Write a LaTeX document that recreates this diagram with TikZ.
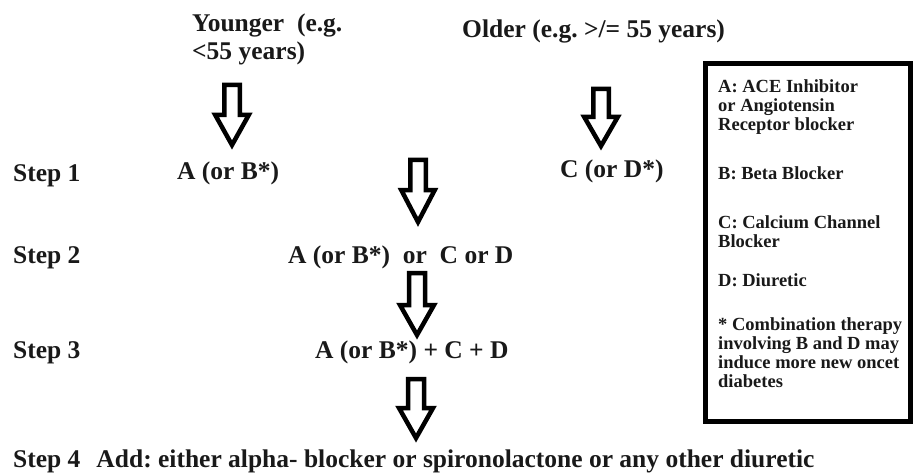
\documentclass[tikz,border=0pt]{standalone}
\usepackage{fontspec}
\setmainfont{Liberation Serif}
\frenchspacing
\newcommand\blockarrow[5]{% cx, top, headstart, tip, shafthalf
  \draw[barrow] ({#1-#5},#2) -- ({#1+#5},#2) -- ({#1+#5},#3) -- ({#1+#5+9},#3) -- (#1,#4) -- ({#1-#5-9},#3) -- ({#1-#5},#3) -- cycle;}
\begin{document}
\begin{tikzpicture}[x=1pt,y=-1pt,
  txt/.style={font=\bfseries\fontsize{25.5}{28}\selectfont, text=black!90, inner sep=0pt, anchor=base west},
  boxtxt/.style={font=\bfseries\fontsize{18.5}{21}\selectfont, text=black!90, inner sep=0pt, anchor=base west},
  barrow/.style={draw=black, line width=4.5pt, fill=white, line join=miter}]
\useasboundingbox (0,0) rectangle (913,476);
\node[txt] (young1) at (192,32) {Younger\ \ (e.g.};
\node[txt] (young2) at (192,60) {<55 years)};
\node[txt] (old) at (462,38) {Older (e.g. >/= 55 years)};
\node[txt] (s1) at (13,182) {Step 1};
\node[txt] (s2) at (13,263) {Step 2};
\node[txt] (s3) at (13,358) {Step 3};
\node[txt] (s4) at (13,467) {Step 4\hspace{16pt}Add: either alpha- blocker or spironolactone or any other diuretic};
\node[txt] (a1) at (177,179) {A (or B*)};
\node[txt] (c1) at (560,177) {C (or D*)};
\node[txt] (r2) at (288,263) {A (or B*)\ \ or\ \ C or D};
\node[txt] (r3) at (315,358) {A (or B*) + C + D};
\blockarrow{232}{85}{115}{145}{7.75}
\blockarrow{601}{89}{117}{146}{7.75}
\blockarrow{418}{160}{190}{222}{7.75}
\blockarrow{417}{273}{305}{335}{8}
\blockarrow{416}{379}{408}{438}{8}
\draw[line width=5pt] (705.5,64) rectangle (910,421);
\node[boxtxt] (l1) at (718,93) {A: ACE Inhibitor};
\node[boxtxt] (l2) at (718,112) {or Angiotensin};
\node[boxtxt] (l3) at (718,131) {Receptor blocker};
\node[boxtxt] (l4) at (718,179) {B: Beta Blocker};
\node[boxtxt] (l5) at (718,228) {C: Calcium Channel};
\node[boxtxt] (l6) at (718,247) {Blocker};
\node[boxtxt] (l7) at (718,286) {D: Diuretic};
\node[boxtxt] (l8) at (718,330) {* Combination therapy};
\node[boxtxt] (l9) at (718,349) {involving B and D may};
\node[boxtxt] (l10) at (718,368) {induce more new oncet};
\node[boxtxt] (l11) at (718,387) {diabetes};
\end{tikzpicture}
\end{document}
